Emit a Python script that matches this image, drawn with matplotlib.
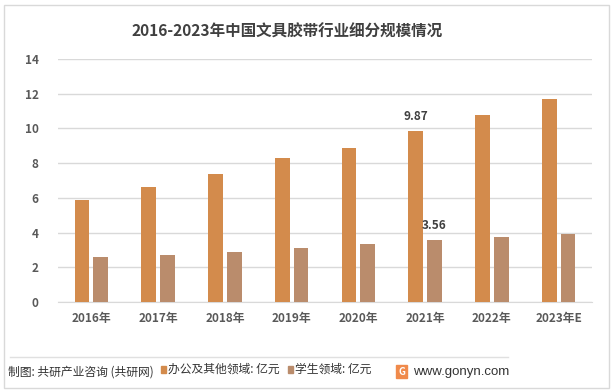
import matplotlib
matplotlib.use("Agg")
import matplotlib.pyplot as plt
import numpy as np
from matplotlib.patches import Rectangle
from matplotlib.lines import Line2D

plt.rcParams['font.family'] = ['Noto Sans CJK SC', 'DejaVu Sans']

categories = ["2016年", "2017年", "2018年", "2019年", "2020年", "2021年", "2022年", "2023年E"]
office = [5.88, 6.62, 7.37, 8.29, 8.87, 9.87, 10.77, 11.69]
student = [2.59, 2.71, 2.88, 3.11, 3.34, 3.56, 3.72, 3.90]
series_names = ["办公及其他领域: 亿元", "学生领域: 亿元"]
yticks = [0, 2, 4, 6, 8, 10, 12, 14]

c_office = "#D38B4C"
c_student = "#BA8C6C"

fig = plt.figure(figsize=(6.14, 3.92), dpi=100)
fig.patch.set_facecolor("white")

# outer frame
fig.add_artist(Rectangle((4/614, 1-388/392), 605/614, 383/392, transform=fig.transFigure,
                         fill=False, edgecolor="#D9D9D9", linewidth=1.0))

ax = fig.add_axes([58/614, 1-302/392, 534/614, 243/392])
x = np.arange(len(categories))
w = 0.22
ax.bar(x - 0.14, office, width=w, color=c_office, zorder=3)
ax.bar(x + 0.14, student, width=w, color=c_student, zorder=3)

ax.set_xlim(-0.5, len(categories) - 0.5)
ax.set_ylim(0, 14)
ax.set_yticks(yticks)
ax.set_yticklabels([str(t) for t in yticks], fontsize=8.5, color="#595959", fontweight="bold")
ax.set_xticks(x)
ax.set_xticklabels(categories, fontsize=8.5, color="#595959", fontweight="bold")
ax.tick_params(axis="both", length=0)
ax.tick_params(axis="y", pad=14)
ax.tick_params(axis="x", pad=7)
ax.grid(axis="y", color="#D9D9D9", linewidth=1.0, zorder=0)
for s in ["top", "right", "left"]:
    ax.spines[s].set_visible(False)
ax.spines["bottom"].set_color("#D9D9D9")

i = 5
ax.text(x[i] - 0.14, office[i] + 0.45, f"{office[i]:.2f}", ha="center", va="bottom",
        fontsize=8.5, fontweight="bold", color="#404040")
ax.text(x[i] + 0.14, student[i] + 0.45, f"{student[i]:.2f}", ha="center", va="bottom",
        fontsize=8.5, fontweight="bold", color="#404040")

fig.text(287/614, 1-32/392, "2016-2023年中国文具胶带行业细分规模情况", ha="center", va="center",
         fontsize=11.2, fontweight="bold", color="#404040")

# footer
fig.add_artist(Line2D([10/614, 508/614], [1-357/392, 1-357/392], transform=fig.transFigure,
                      color="#E0E0E0", linewidth=1.0))
fy = 1-372/392
fig.text(8/614, fy, "制图: 共研产业咨询 (共研网)", ha="left", va="center", fontsize=8.5, color="#333333")
fig.add_artist(Rectangle((161/614, fy - 1/392), 5/614, 7/392, transform=fig.transFigure,
                         color=c_office))
fig.text(168/614, fy + 0.006, series_names[0], ha="left", va="center", fontsize=8.5, color="#333333")
fig.add_artist(Rectangle((288/614, fy - 1/392), 5/614, 7/392, transform=fig.transFigure,
                         color=c_student))
fig.text(295/614, fy + 0.006, series_names[1], ha="left", va="center", fontsize=8.5, color="#333333")
fig.add_artist(Rectangle((396/614, fy - 6/392), 11/614, 13/392, transform=fig.transFigure,
                         color="#F08A4B"))
fig.text(401.5/614, fy, "G", ha="center", va="center", fontsize=7, color="white", fontweight="bold")
fig.text(413/614, fy, "www.gonyn.com", ha="left", va="center", fontsize=9.5, color="#333333",
         family=["Liberation Sans", "DejaVu Sans"])

fig.savefig("out.png", dpi=100, facecolor="white")
